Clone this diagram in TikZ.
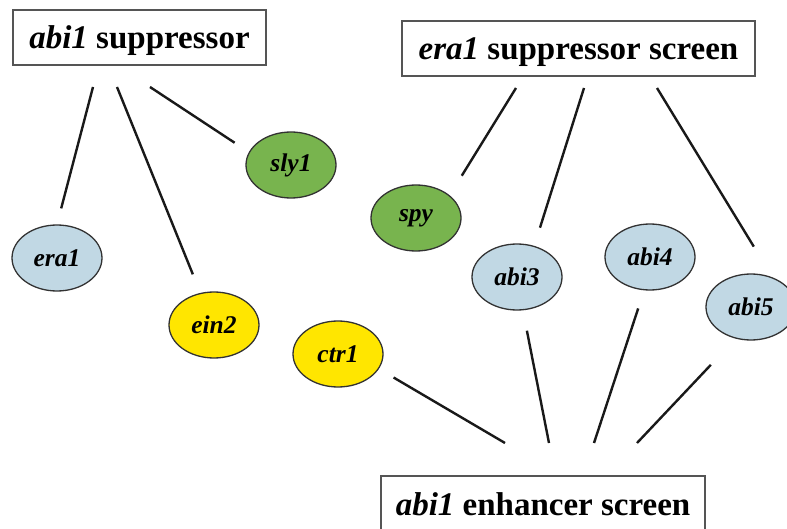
\documentclass[tikz,border=0pt]{standalone}
\usepackage{fontspec}
\setmainfont{Liberation Serif}
\usetikzlibrary{shapes.geometric}
\definecolor{gblue}{RGB}{193,216,228}
\definecolor{ggreen}{RGB}{120,180,78}
\definecolor{gyellow}{RGB}{255,230,0}
\definecolor{gborder}{RGB}{50,50,50}
\definecolor{bborder}{RGB}{85,85,85}
\begin{document}
\begin{tikzpicture}[x=1pt,y=-1pt,
  gene/.style={ellipse, draw=gborder, line width=1.3pt, minimum width=90pt, minimum height=66pt, inner sep=0pt, font=\fontsize{25.5}{25.5}\selectfont\bfseries\itshape},
  genblue/.style={gene, fill=gblue},
  gengreen/.style={gene, fill=ggreen},
  genyellow/.style={gene, fill=gyellow},
  screenbox/.style={draw=bborder, line width=1.3pt, minimum height=55pt, inner sep=0pt, text height=23pt, text depth=0pt, font=\fontsize{33}{33}\selectfont\bfseries},
  link/.style={line width=2.4pt, black!90}
]
\useasboundingbox (0,0) rectangle (787,529);
\clip (0,0) rectangle (787,529);
\fill[white] (0,0) rectangle (787,529);

% screens
\node[screenbox, minimum width=253pt] (abisup) at (139.5,37.5) {\textit{abi1} suppressor};
\node[screenbox, minimum width=353pt] (erasup) at (578.5,48.5) {\textit{era1} suppressor screen};
\node[screenbox, minimum width=324pt] (abienh) at (543,503.5) {\textit{abi1} enhancer screen};

% genes
\node[genblue] (era1) at (57,258) {era1};
\node[gengreen] (sly1) at (291,165) {sly1};
\node[gengreen] (spy) at (416,218) {spy};
\node[genyellow] (ein2) at (214,325) {ein2};
\node[genyellow] (ctr1) at (338,354) {ctr1};
\node[genblue] (abi3) at (517,277) {abi3};
\node[genblue] (abi4) at (650,257) {abi4};
\node[genblue] (abi5) at (751,307) {abi5};

% free ends of connectors
\coordinate (t1) at (93,87);
\coordinate (t2) at (117,87);
\coordinate (t3) at (150,87);
\coordinate (t4) at (516,88);
\coordinate (t5) at (584,88);
\coordinate (t6) at (657,88);
\coordinate (b1) at (505,443);
\coordinate (b2) at (549,443);
\coordinate (b3) at (594,443);
\coordinate (b4) at (637,443);

% connectors
\draw[link, shorten >=16.5pt] (t1) -- (era1.90);
\draw[link, shorten >=20pt] (t2) -- (ein2.113);
\draw[link, shorten >=17pt] (t3) -- (sly1.163);
\draw[link, shorten >=23pt] (t4) -- (spy.34);
\draw[link, shorten >=19pt] (t5) -- (abi3.61);
\draw[link, shorten >=36pt] (t6) -- (abi5.54);
\draw[link, shorten <=17pt] (ctr1.-20) -- (b1);
\draw[link, shorten <=20.7pt] (abi3.-80) -- (b2);
\draw[link, shorten <=19pt] (abi4.-100) -- (b3);
\draw[link, shorten <=36pt] (abi5.-116) -- (b4);
\end{tikzpicture}
\end{document}
